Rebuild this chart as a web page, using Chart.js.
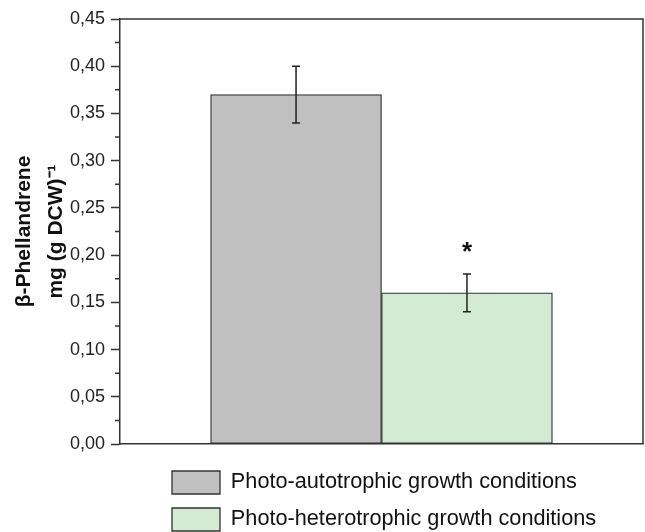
<!DOCTYPE html>
<html>
<head>
<meta charset="utf-8">
<script src="https://cdn.jsdelivr.net/npm/chart.js@4"></script>
<style>
  html, body { margin: 0; padding: 0; background: #fff; }
</style>
</head>
<body>
<canvas id="chart" width="645" height="532"></canvas>
<script>
// Values
const groupLabels = ['Photo-autotrophic growth conditions', 'Photo-heterotrophic growth conditions'];
const groupPositions = [1, 2];
const meanValues = [0.37, 0.16];
const errorValues = [0.03, 0.02];
const significance = ['', '*'];
const barColors = ['#c0c0c0', '#d2ebd2'];
const yTickValues = [0.00, 0.05, 0.10, 0.15, 0.20, 0.25, 0.30, 0.35, 0.40, 0.45];

const fontFamily = '"Liberation Sans", Arial, sans-serif';
const lineColor = '#333';

// Error bars and significance mark on top of the bars
const errorBarPlugin = {
    id: 'errorBars',
    afterDatasetsDraw(chart) {
        const ctx = chart.ctx;
        const x = chart.scales.x;
        const y = chart.scales.y;
        ctx.save();
        ctx.strokeStyle = '#222';
        ctx.lineWidth = 1.5;
        meanValues.forEach((m, i) => {
            const px = x.getPixelForValue(groupPositions[i]);
            const top = y.getPixelForValue(m + errorValues[i]);
            const bot = y.getPixelForValue(m - errorValues[i]);
            ctx.beginPath();
            ctx.moveTo(px, top); ctx.lineTo(px, bot);
            ctx.moveTo(px - 4, top); ctx.lineTo(px + 4, top);
            ctx.moveTo(px - 4, bot); ctx.lineTo(px + 4, bot);
            ctx.stroke();
            if (significance[i]) {
                ctx.fillStyle = '#111';
                ctx.font = 'bold 26px ' + fontFamily;
                ctx.textAlign = 'center';
                ctx.textBaseline = 'middle';
                ctx.fillText(significance[i], px, top - 21);
            }
        });
        ctx.restore();
    }
};

// Box frame (top + right) and minor ticks on the y axis
const framePlugin = {
    id: 'frame',
    afterDraw(chart) {
        const ctx = chart.ctx;
        const a = chart.chartArea;
        const y = chart.scales.y;
        ctx.save();
        ctx.strokeStyle = lineColor;
        ctx.lineWidth = 1.5;
        ctx.beginPath();
        ctx.moveTo(a.left, a.top);
        ctx.lineTo(a.right, a.top);
        ctx.lineTo(a.right, a.bottom);
        const t = y.ticks;
        for (let i = 0; i < t.length - 1; i++) {
            const py = y.getPixelForValue((t[i].value + t[i + 1].value) / 2);
            ctx.moveTo(a.left - 5, py);
            ctx.lineTo(a.left, py);
        }
        ctx.stroke();
        ctx.restore();
    }
};

// Legend sits as a left aligned block under the plot
const legendPlacePlugin = {
    id: 'legendPlace',
    afterLayout(chart) {
        const lg = chart.legend;
        const w = lg.right - lg.left;
        const h = lg.bottom - lg.top;
        lg.left = 158;
        lg.right = lg.left + w;
        lg.top = 457;
        lg.bottom = lg.top + h;
    }
};

Chart.defaults.font.family = fontFamily;

new Chart(document.getElementById('chart'), {
    type: 'bar',
    data: {
        datasets: groupLabels.map((label, i) => ({
            label: label,
            data: [{ x: groupPositions[i], y: meanValues[i] }],
            backgroundColor: barColors[i],
            borderColor: lineColor,
            borderWidth: 1.3,
            borderSkipped: false,
            barPercentage: 1,
            categoryPercentage: 1,
            grouped: false
        }))
    },
    options: {
        responsive: false,
        animation: false,
        layout: { padding: { top: 19, right: 2, left: 0, bottom: 3 } },
        scales: {
            x: {
                type: 'linear',
                min: -0.03,
                max: 3.03,
                offset: false,
                afterFit: axis => { axis.height = 1; },
                ticks: { display: false, stepSize: 1, includeBounds: false },
                grid: { display: false },
                border: { display: true, color: lineColor, width: 1.5 }
            },
            y: {
                min: 0,
                max: 0.45,
                afterFit: axis => { axis.width = 120; },
                afterBuildTicks: axis => { axis.ticks = yTickValues.map(v => ({ value: v })); },
                ticks: {
                    callback: v => v.toFixed(2).replace('.', ','),
                    font: { size: 18 },
                    color: '#222',
                    padding: 6
                },
                grid: { drawOnChartArea: false, drawTicks: true, tickLength: 9, tickColor: lineColor, tickWidth: 1.5 },
                border: { color: lineColor, width: 1.5 },
                title: {
                    display: true,
                    text: ['β-Phellandrene', 'mg (g DCW)⁻¹'],
                    font: { size: 21, weight: 'bold', lineHeight: 1.52 },
                    padding: { top: 8, bottom: 2 },
                    color: '#111'
                }
            }
        },
        plugins: {
            legend: {
                position: 'bottom',
                align: 'start',
                labels: {
                    boxWidth: 48,
                    boxHeight: 23,
                    padding: 14,
                    color: '#111',
                    font: { size: 21.7 }
                }
            },
            tooltip: { enabled: false }
        }
    },
    plugins: [errorBarPlugin, framePlugin, legendPlacePlugin]
});
</script>
</body>
</html>
